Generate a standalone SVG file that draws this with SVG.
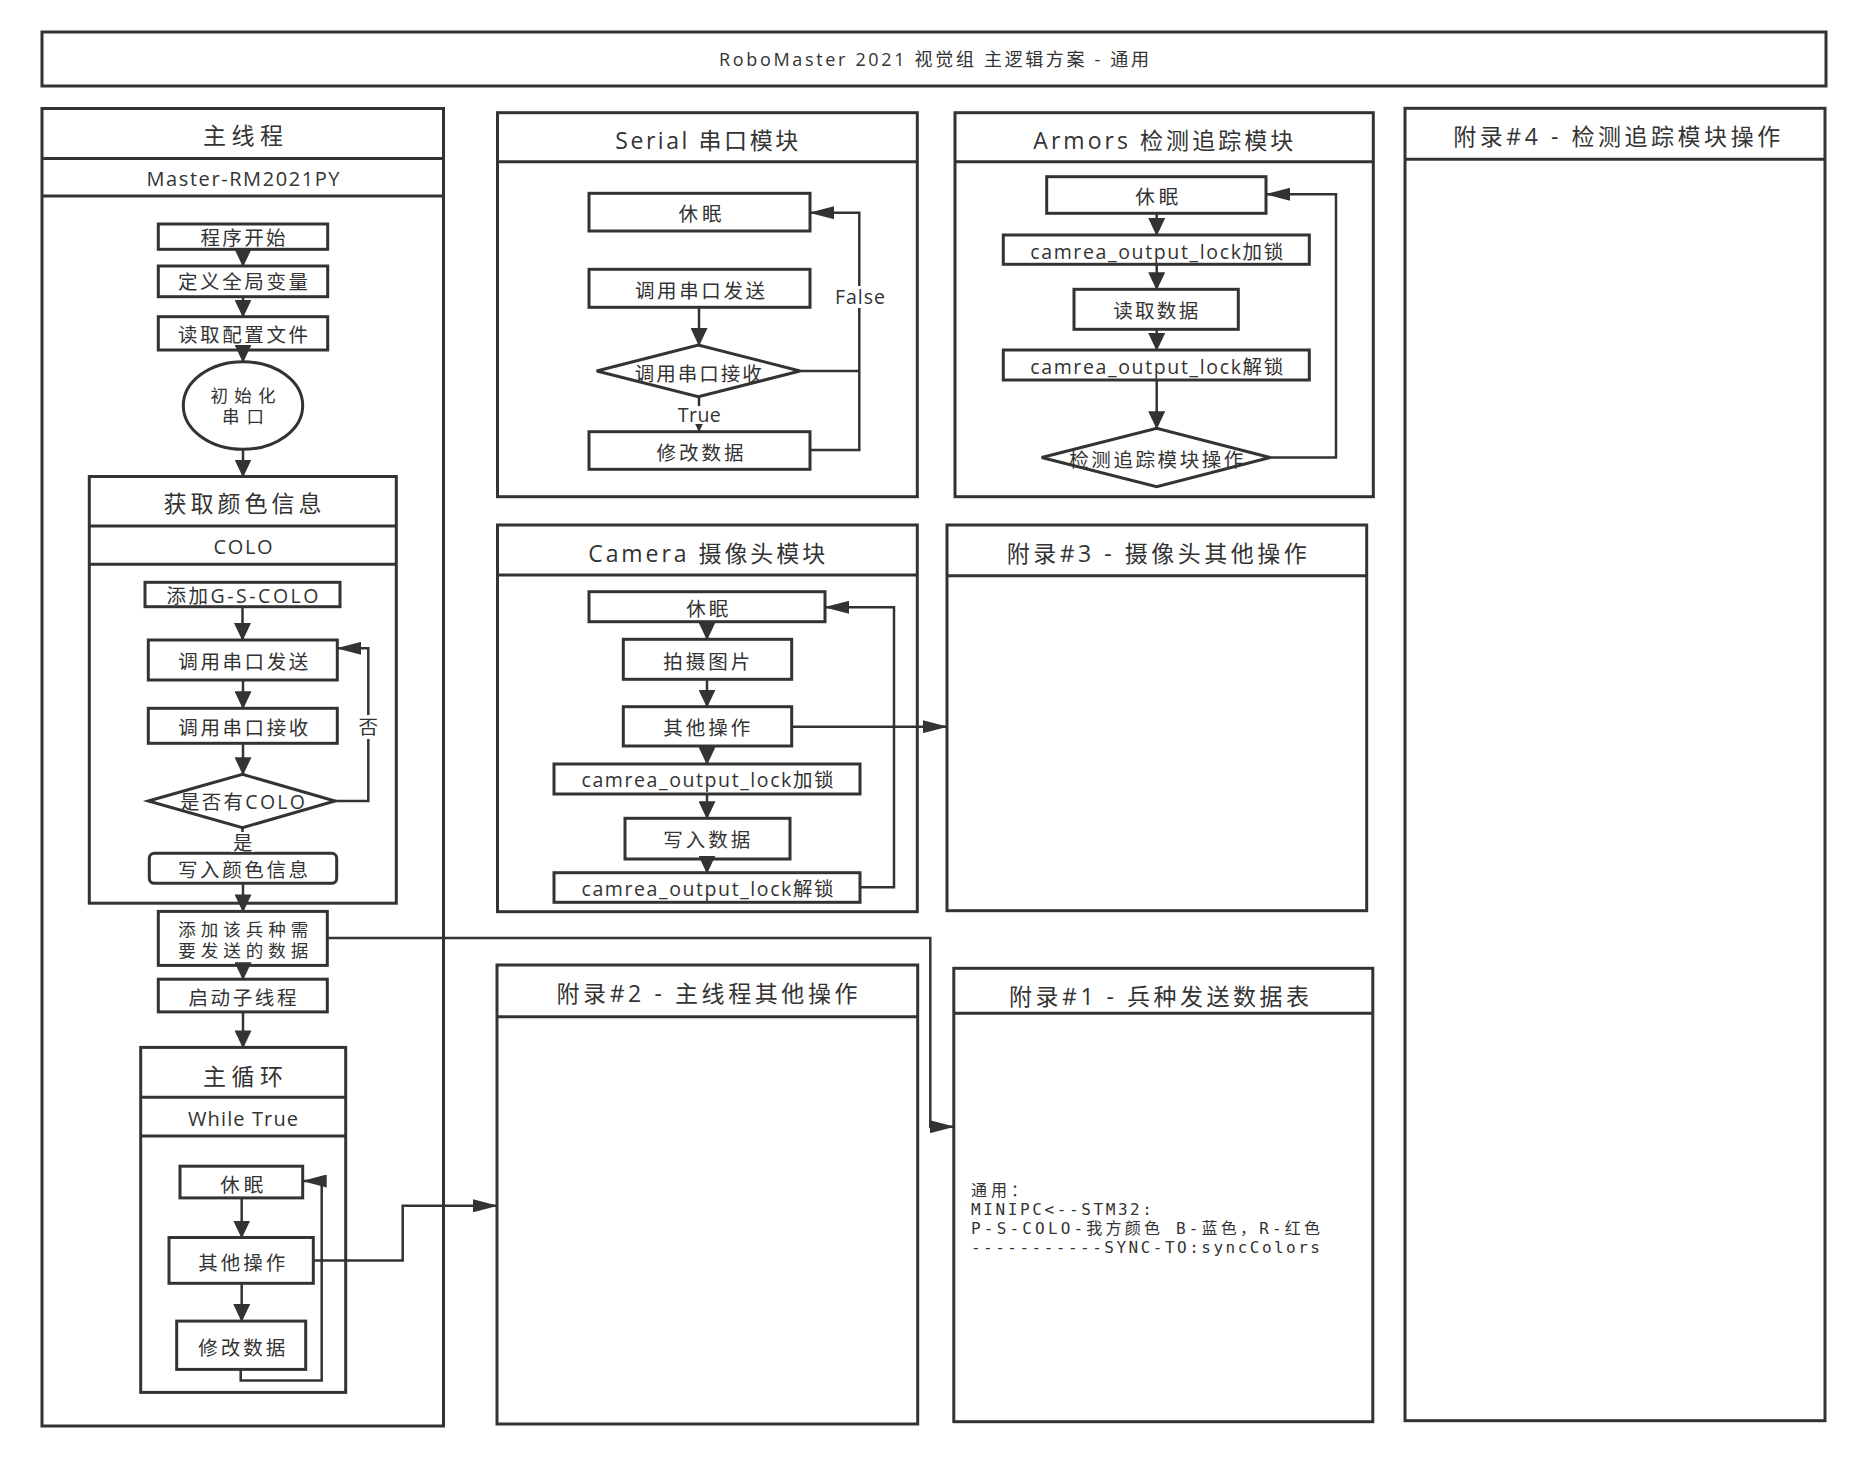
<svg xmlns="http://www.w3.org/2000/svg" width="1867" height="1458" viewBox="0 0 1867 1458">
<style>
.bg{fill:#ffffff}
.lane{fill:#ffffff;stroke:#333;stroke-width:3}
.div{fill:none;stroke:#333;stroke-width:3}
.box{fill:#ffffff;stroke:#333;stroke-width:3}
.t{font-family:"Open Sans","Noto Sans CJK SC",sans-serif;fill:#333;text-anchor:middle;dominant-baseline:central}
.t2{font-family:"Liberation Sans","Noto Sans CJK SC",sans-serif;font-size:17.5px}
.h{font-size:23px}
.s{font-size:20px}
.n{font-size:19.5px}
.m{font-family:"DejaVu Sans Mono","Noto Sans CJK SC",monospace;font-size:16px;fill:#333;dominant-baseline:central}
.c{fill:none;stroke:#333;stroke-width:2.5}
.cv{marker-end:url(#av)}
.ch{marker-end:url(#ah)}
.lbl{fill:#ffffff}
</style>
<defs>
<marker id="av" markerUnits="userSpaceOnUse" viewBox="0 0 18 17" markerWidth="18" markerHeight="17" refX="17" refY="8.5" orient="auto"><path d="M0,0 L18,8.5 L0,17 z" fill="#333"/></marker>
<marker id="ah" markerUnits="userSpaceOnUse" viewBox="0 0 25 13" markerWidth="25" markerHeight="13" refX="24" refY="6.5" orient="auto"><path d="M0,0 L25,6.5 L0,13 z" fill="#333"/></marker>
<marker id="as" markerUnits="userSpaceOnUse" viewBox="0 0 8 8" markerWidth="8" markerHeight="8" refX="8" refY="4" orient="auto"><path d="M0,0 L8,4 L0,8 z" fill="#333"/></marker>
</defs>
<rect class="bg" x="0" y="0" width="1867" height="1458"/>

<g id="title">
<rect class="lane" x="42" y="32" width="1784" height="54"/>
<text class="t" style="font-size:18px" x="934" y="59" textLength="430">RoboMaster 2021 视觉组 主逻辑方案 - 通用</text>
</g>

<!-- Main thread lane -->
<g id="lane-main">
<rect class="lane" x="42" y="108.5" width="401.5" height="1317.5"/>
<path class="div" d="M42,158.5 H443.5 M42,196 H443.5"/>
<text class="t h" x="243" y="134.5" textLength="80">主线程</text>
<text class="t s" x="243" y="178" textLength="193">Master-RM2021PY</text>
</g>
<g id="n-start"><rect class="box" x="158.3" y="224" width="169.4" height="25.3"/><text class="t n" x="243" y="237" textLength="85">程序开始</text></g>
<g id="n-globals"><rect class="box" x="158.3" y="266" width="169.4" height="30.7"/><text class="t n" x="243" y="281.5" textLength="130">定义全局变量</text></g>
<g id="n-config"><rect class="box" x="158.3" y="316.7" width="169.4" height="33.3"/><text class="t n" x="243" y="334.5" textLength="130">读取配置文件</text></g>
<g id="n-init"><ellipse class="box" cx="243" cy="405.5" rx="59.7" ry="43.8"/><text class="t t2" x="243" y="396" textLength="65">初始化</text><text class="t t2" x="243" y="416.8" textLength="42">串口</text></g>

<g id="lane-color">
<rect class="lane" x="89.3" y="476.5" width="307" height="426.7"/>
<path class="div" d="M89.3,526 H396.3 M89.3,564.3 H396.3"/>
<text class="t h" x="242.5" y="503" textLength="158">获取颜色信息</text>
<text class="t s" x="243" y="546" textLength="59">COLO</text>
</g>
<g id="n-addgs"><rect class="box" x="145" y="582.3" width="195" height="24.4"/><text class="t n" x="242.5" y="595" textLength="152">添加G-S-COLO</text></g>
<g id="n-send1"><rect class="box" x="148.3" y="640" width="189" height="40"/><text class="t n" x="243.3" y="661.5" textLength="130">调用串口发送</text></g>
<g id="n-recv1"><rect class="box" x="148.3" y="708.3" width="189" height="35"/><text class="t n" x="243.3" y="727" textLength="130">调用串口接收</text></g>
<g id="n-hascolo"><polygon class="box" points="148.3,801 242.5,774.3 335,801 242.5,827.7"/><text class="t n" x="242.5" y="801.7" textLength="125">是否有COLO</text></g>
<g id="n-writecolor"><rect class="box" x="149.3" y="853.3" width="187.4" height="30" rx="5"/><text class="t n" x="243" y="869" textLength="130">写入颜色信息</text></g>

<g id="n-adddata"><rect class="box" x="158.3" y="911.4" width="169" height="54"/><text class="t t2" x="243.3" y="930" textLength="130">添加该兵种需</text><text class="t t2" x="243.3" y="950.8" textLength="130">要发送的数据</text></g>
<g id="n-subthread"><rect class="box" x="158.3" y="979.2" width="169" height="32.7"/><text class="t n" x="242.5" y="997.5" textLength="108">启动子线程</text></g>

<g id="lane-loop">
<rect class="lane" x="140.7" y="1047.4" width="205" height="345"/>
<path class="div" d="M140.7,1097.3 H345.7 M140.7,1135.9 H345.7"/>
<text class="t h" x="243" y="1075.6" textLength="80">主循环</text>
<text class="t s" x="243" y="1118" textLength="110">While True</text>
</g>
<g id="n-sleep-main"><rect class="box" x="180" y="1166.2" width="122.7" height="31.7"/><text class="t n" x="241.7" y="1184.5" textLength="43">休眠</text></g>
<g id="n-other-main"><rect class="box" x="169" y="1237.5" width="144.3" height="45.8"/><text class="t n" x="241.7" y="1262" textLength="87">其他操作</text></g>
<g id="n-modify-main"><rect class="box" x="176.7" y="1321.1" width="129" height="48.3"/><text class="t n" x="241.7" y="1347.3" textLength="87">修改数据</text></g>

<!-- Serial lane -->
<g id="lane-serial">
<rect class="lane" x="497.5" y="112.7" width="419.8" height="384"/>
<path class="div" d="M497.5,161.7 H917.3"/>
<text class="t h" x="706.7" y="139.5" textLength="183">Serial 串口模块</text>
</g>
<g id="n-sleep-serial"><rect class="box" x="589" y="193.3" width="221" height="37.7"/><text class="t n" x="700" y="213.5" textLength="43">休眠</text></g>
<g id="n-send-serial"><rect class="box" x="589" y="269.3" width="221" height="38"/><text class="t n" x="700" y="290.5" textLength="130">调用串口发送</text></g>
<g id="n-recv-serial"><polygon class="box" points="596.7,371 698.3,345 800,371 698.3,396.7"/><text class="t n" x="698.3" y="373.5" textLength="127">调用串口接收</text></g>
<g id="n-modify-serial"><rect class="box" x="589" y="431.7" width="221" height="37.6"/><text class="t n" x="700" y="452.5" textLength="87">修改数据</text></g>

<!-- Armors lane -->
<g id="lane-armors">
<rect class="lane" x="955" y="112.7" width="418.3" height="384"/>
<path class="div" d="M955,161.7 H1373.3"/>
<text class="t h" x="1163.3" y="139.5" textLength="260">Armors 检测追踪模块</text>
</g>
<g id="n-sleep-armors"><rect class="box" x="1046.7" y="176.7" width="219.3" height="36.6"/><text class="t n" x="1156.7" y="196.8" textLength="43">休眠</text></g>
<g id="n-lock-armors"><rect class="box" x="1003.3" y="235" width="306" height="29.3"/><text class="t n" x="1156.7" y="251" textLength="253">camrea_output_lock加锁</text></g>
<g id="n-read-armors"><rect class="box" x="1074" y="289.3" width="164.3" height="40"/><text class="t n" x="1155.7" y="310.3" textLength="85">读取数据</text></g>
<g id="n-unlock-armors"><rect class="box" x="1003.3" y="350" width="306" height="30"/><text class="t n" x="1156.7" y="366" textLength="253">camrea_output_lock解锁</text></g>
<g id="n-detect"><polygon class="box" points="1041.7,457.5 1156.7,428.3 1270,457.5 1156.7,486.7"/><text class="t n" x="1156.3" y="459.5" textLength="174">检测追踪模块操作</text></g>

<!-- Camera lane -->
<g id="lane-camera">
<rect class="lane" x="497.5" y="525" width="419.8" height="386.7"/>
<path class="div" d="M497.5,575 H917.3"/>
<text class="t h" x="706.7" y="553" textLength="237">Camera 摄像头模块</text>
</g>
<g id="n-sleep-cam"><rect class="box" x="589" y="591.7" width="236" height="30"/><text class="t n" x="707.3" y="608.8" textLength="42">休眠</text></g>
<g id="n-shoot"><rect class="box" x="623.3" y="639.3" width="168.4" height="40"/><text class="t n" x="706.7" y="661.3" textLength="87">拍摄图片</text></g>
<g id="n-other-cam"><rect class="box" x="623.3" y="706.7" width="168.4" height="39.3"/><text class="t n" x="706.7" y="727" textLength="87">其他操作</text></g>
<g id="n-lock-cam"><rect class="box" x="554" y="764" width="306" height="30"/><text class="t n" x="707.5" y="779.5" textLength="252">camrea_output_lock加锁</text></g>
<g id="n-write-cam"><rect class="box" x="625" y="818.3" width="165" height="40.7"/><text class="t n" x="706.7" y="839.5" textLength="87">写入数据</text></g>
<g id="n-unlock-cam"><rect class="box" x="554" y="872.7" width="306" height="29.6"/><text class="t n" x="707.5" y="888" textLength="252">camrea_output_lock解锁</text></g>

<!-- Appendix lanes -->
<g id="lane-app3">
<rect class="lane" x="947" y="525" width="419.7" height="385.7"/>
<path class="div" d="M947,575.7 H1366.7"/>
<text class="t h" x="1156.7" y="553" textLength="300">附录#3 - 摄像头其他操作</text>
</g>
<g id="lane-app2">
<rect class="lane" x="497" y="965" width="420.7" height="459"/>
<path class="div" d="M497,1016.7 H917.7"/>
<text class="t h" x="707" y="993" textLength="301">附录#2 - 主线程其他操作</text>
</g>
<g id="lane-app1">
<rect class="lane" x="953.8" y="968.3" width="419" height="453.4"/>
<path class="div" d="M953.8,1013.3 H1372.8"/>
<text class="t h" x="1159" y="996" textLength="300">附录#1 - 兵种发送数据表</text>
<text class="m" x="971" y="1190" textLength="56">通用：</text>
<text class="m" x="971" y="1209.5" textLength="181">MINIPC&lt;--STM32:</text>
<text class="m" x="971" y="1228.5" textLength="349">P-S-COLO-我方颜色 B-蓝色，R-红色</text>
<text class="m" x="971" y="1247.5" textLength="349">-----------SYNC-TO:syncColors</text>
</g>
<g id="lane-app4">
<rect class="lane" x="1405" y="108.3" width="420" height="1312.4"/>
<path class="div" d="M1405,159.3 H1825"/>
<text class="t h" x="1616.7" y="135.5" textLength="327">附录#4 - 检测追踪模块操作</text>
</g>

<!-- Connectors -->
<g id="connectors">
<path class="c cv" d="M243,249.3 V266"/>
<path class="c cv" d="M243,296.7 V316.7"/>
<path class="c cv" d="M243,348 V361.7"/>
<path class="c cv" d="M243,449.3 V476.5"/>
<path class="c cv" d="M242.5,606.7 V640"/>
<path class="c cv" d="M243,680 V708.3"/>
<path class="c cv" d="M243,743.3 V774.3"/>
<path class="c cv" d="M242.5,827.7 V853.3"/>
<path class="c ch" d="M335,801 H368.3 V648.3 H337.3"/>
<path class="c cv" d="M243,883.3 V911.4"/>
<path class="c cv" d="M243,963 V979.2"/>
<path class="c cv" d="M243,1011.9 V1047.4"/>
<path class="c cv" d="M241.7,1197.9 V1237.5"/>
<path class="c cv" d="M241.7,1283.3 V1321.1"/>
<path class="c ch" d="M240.7,1369.4 V1380.4 H321.7 V1181 H302.7"/>
<path class="c ch" d="M313.3,1260.5 H402.7 V1205.8 H497"/>
<path class="c ch" d="M327.3,937.9 H930.3 V1126.7 H953.8"/>

<path class="c cv" d="M699,307.3 V345"/>
<path class="c" style="marker-end:url(#as)" d="M699,396.7 V431.7"/>
<path class="c" d="M800,371 H859.3"/>
<path class="c ch" d="M810,450 H859.3 V212.7 H810"/>

<path class="c cv" d="M1156.7,213.3 V235"/>
<path class="c cv" d="M1156.7,264.3 V289.3"/>
<path class="c cv" d="M1156.7,329.3 V350"/>
<path class="c cv" d="M1156.7,380 V428.3"/>
<path class="c ch" d="M1270,457.5 H1336 V194.3 H1266"/>

<path class="c cv" d="M707,621.7 V639.3"/>
<path class="c cv" d="M707,679.3 V706.7"/>
<path class="c cv" d="M707,746 V764"/>
<path class="c cv" d="M707,794 V818.3"/>
<path class="c cv" d="M707,857 V872.7"/>
<path class="c ch" d="M860,887.3 H894 V607.3 H825"/>
<path class="c ch" d="M791.7,726.7 H946.7"/>
</g>

<!-- Connector labels -->
<g id="labels">
<rect class="lbl" x="357" y="715" width="23" height="24"/>
<text class="t n" x="368.3" y="726.7">否</text>
<rect class="lbl" x="231" y="832" width="23" height="20"/>
<text class="t n" x="242.7" y="842.5">是</text>
<rect class="lbl" x="676" y="406" width="47" height="18"/>
<text class="t n" x="699.3" y="414.5" textLength="43">True</text>
<rect class="lbl" x="833" y="286" width="54" height="22"/>
<text class="t n" x="860" y="296.5" textLength="50">False</text>
</g>
</svg>
